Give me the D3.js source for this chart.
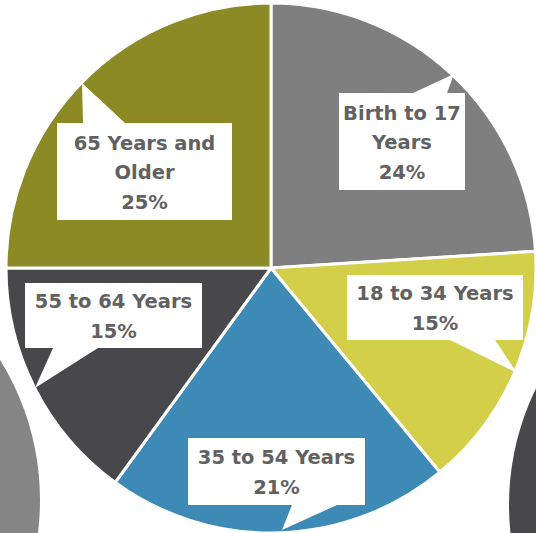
<!DOCTYPE html>
<html><head><meta charset="utf-8">
<script src="https://cdn.jsdelivr.net/npm/d3@7"></script>
<style>
html,body{margin:0;padding:0;background:#fff;overflow:hidden}
svg{display:block}
</style></head>
<body>
<script>
// ---- data ----
const categories = ["Birth to 17 Years", "18 to 34 Years", "35 to 54 Years", "55 to 64 Years", "65 Years and Older"];
const shares = [24, 15, 21, 15, 25];
const labelLines = [["Birth to 17", "Years"], ["18 to 34 Years"], ["35 to 54 Years"], ["55 to 64 Years"], ["65 Years and", "Older"]];
const colors = ["#7f7f7f", "#d4cf48", "#3e8ab6", "#48484b", "#8b8a25"];

// ---- layout (positions of callout boxes, not data) ----
const W = 536, H = 533;
const cx = 271, cy = 268, R = 265;
const boxes = [
  {box:[339, 93, 465, 190], base:[413, 447], side:"top", tip:[454, 74]},
  {box:[347, 275, 523, 340], base:[450, 495], side:"bottom", tip:[517, 373]},
  {box:[188, 438, 365, 505], base:[292, 337], side:"bottom", tip:[282, 530]},
  {box:[25, 283, 202, 348], base:[53, 98], side:"bottom", tip:[35, 388]},
  {box:[57, 123, 232, 220], base:[83, 125], side:"top", tip:[82, 83]}
];

const svg = d3.select("body").append("svg").attr("width", W).attr("height", H);

// neighbouring pies partly visible at the edges
svg.append("circle").attr("cx", -225).attr("cy", 500).attr("r", R).attr("fill", "#858585");
svg.append("circle").attr("cx", 774).attr("cy", 505).attr("r", R).attr("fill", "#48484b");

const pie = d3.pie().sort(null).value(d => d).startAngle(0).endAngle(2 * Math.PI);
const arcs = pie(shares);
const arc = d3.arc().innerRadius(0).outerRadius(R);

const g = svg.append("g").attr("transform", `translate(${cx},${cy})`);
g.selectAll("path.slice").data(arcs).join("path")
  .attr("class", "slice")
  .attr("d", arc)
  .attr("fill", (d, i) => colors[i])
  .attr("stroke", "#fff")
  .attr("stroke-width", 3)
  .attr("stroke-linejoin", "round");

// callouts
const lab = svg.append("g");
arcs.forEach((a, i) => {
  const b = boxes[i];
  const [x0, y0, x1, y1] = b.box;
  let pts;
  if (b.side === "top") {
    pts = [[x0, y0], [b.base[0], y0], b.tip, [b.base[1], y0], [x1, y0], [x1, y1], [x0, y1]];
  } else {
    pts = [[x0, y0], [x1, y0], [x1, y1], [b.base[1], y1], b.tip, [b.base[0], y1], [x0, y1]];
  }
  lab.append("path").attr("d", d3.line()(pts) + "Z").attr("fill", "#fff");
  const lines = labelLines[i].concat([d3.format(".0f")(a.data) + "%"]);
  const xc = (x0 + x1) / 2;
  const lh = 29.5;
  const n = lines.length;
  const midY = (y0 + y1) / 2;
  const firstBase = midY - (n - 1) * lh / 2 + 7.5;
  const t = lab.append("text")
    .attr("text-anchor", "middle")
    .attr("font-family", "'DejaVu Sans', sans-serif")
    .attr("font-weight", "bold")
    .attr("font-size", 19.5)
    .attr("fill", "#616161");
  lines.forEach((s, k) => {
    t.append("tspan").attr("x", xc).attr("y", firstBase + k * lh).text(s);
  });
});
</script>
</body></html>
